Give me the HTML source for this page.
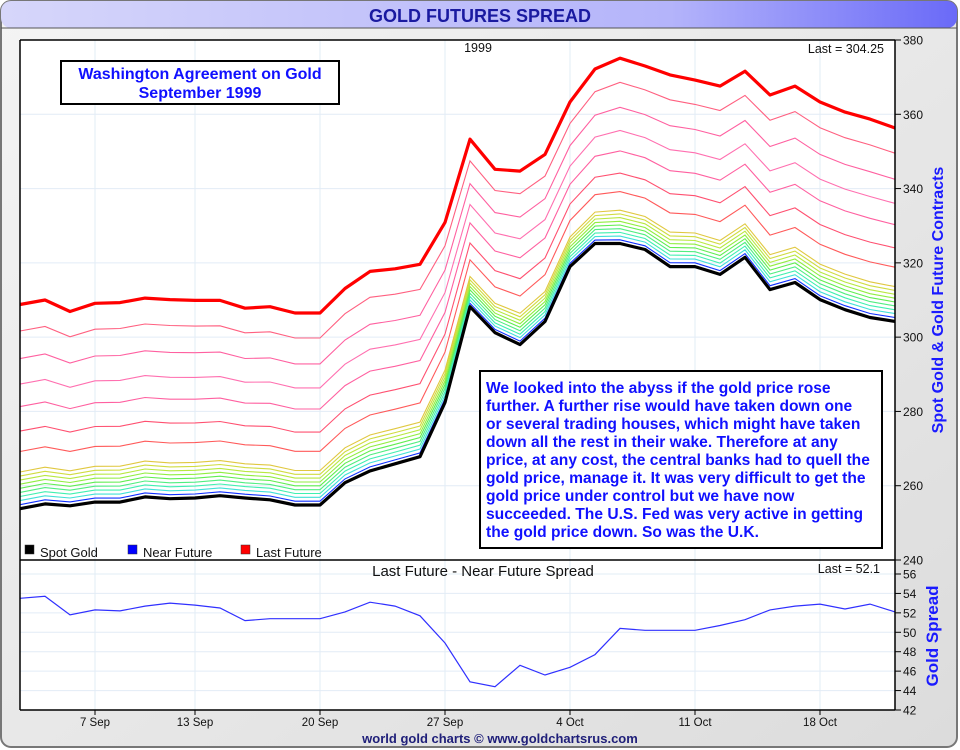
<!DOCTYPE html>
<html><head><meta charset="utf-8"><style>
html,body{margin:0;padding:0;width:960px;height:750px;overflow:hidden;background:#fff;font-family:"Liberation Sans",sans-serif}
</style></head><body>
<svg id="c" width="960" height="750" xmlns="http://www.w3.org/2000/svg">
<defs>
<linearGradient id="tg" x1="0" x2="1" y1="0" y2="0"><stop offset="0" stop-color="#d6d6fa"/><stop offset="0.7" stop-color="#b4b4fa"/><stop offset="1" stop-color="#6a6af8"/></linearGradient>
<linearGradient id="bg" x1="0" x2="1" y1="0" y2="1"><stop offset="0" stop-color="#f4f4f4"/><stop offset="1" stop-color="#dcdcdc"/></linearGradient>
</defs>
<rect x="1" y="1" width="956" height="746" rx="10" fill="url(#bg)" stroke="#777" stroke-width="2"/>
<rect x="1" y="1" width="956" height="27" rx="10" fill="url(#tg)"/>
<line x1="1" y1="28" x2="957" y2="28" stroke="#555" stroke-width="1"/>
<text x="480" y="22" text-anchor="middle" font-size="18" font-weight="bold" fill="#1a1aa0">GOLD FUTURES SPREAD</text>
<rect x="20" y="40" width="875" height="670" fill="#fff"/>
<g id="grid"></g>
<g id="series"></g>
<g id="axes"></g>
</svg>
<script>
const dates=["1 Sep","2 Sep","3 Sep","7 Sep","8 Sep","9 Sep","10 Sep","13 Sep","14 Sep","15 Sep","16 Sep","17 Sep","20 Sep","21 Sep","22 Sep","23 Sep","24 Sep","27 Sep","28 Sep","29 Sep","30 Sep","1 Oct","4 Oct","5 Oct","6 Oct","7 Oct","8 Oct","11 Oct","12 Oct","13 Oct","14 Oct","15 Oct","18 Oct","19 Oct","20 Oct","21 Oct","22 Oct"];
const spot=[253.8,255.1,254.6,255.6,255.6,257.0,256.5,256.7,257.3,256.7,256.2,254.8,254.8,260.8,264.0,265.9,267.8,282.4,308.2,301.2,298.0,304.2,319.0,325.2,325.2,323.6,319.0,319.0,316.9,321.5,312.8,314.7,310.1,307.4,305.3,304.25];
const lastFut=[308.8,310.0,306.9,309.1,309.3,310.5,310.1,309.9,309.9,307.8,308.2,306.5,306.5,313.1,317.7,318.4,319.6,330.9,353.3,345.2,344.7,349.2,363.3,372.2,375.1,373.0,370.6,369.2,367.6,371.6,365.2,367.6,363.3,360.6,358.7,356.3];
const spread=[53.5,53.7,51.8,52.3,52.2,52.7,53.0,52.8,52.5,51.2,51.4,51.4,51.4,52.1,53.1,52.7,51.7,48.9,44.9,44.4,46.6,45.6,46.4,47.7,50.4,50.2,50.2,50.2,50.7,51.3,52.3,52.7,52.9,52.4,52.9,52.1];
const contractFrac=[0.02,0.04,0.06,0.08,0.10,0.12,0.14,0.16,0.18,0.28,0.38,0.50,0.61,0.735,0.87];
const contractColors=["#1030ff","#40e0d8","#40f0b0","#50ee80","#60ee50","#90ee40","#b8e840","#d0dc40","#e0c840","#ff5a5a","#ff5070","#ff60a0","#ff70b0","#ff60a0","#ff6080"];
const mainTicks=[240,260,280,300,320,340,360,380];
const spreadTicks=[42,44,46,48,50,52,54,56];
const xLabels=["7 Sep","13 Sep","20 Sep","27 Sep","4 Oct","11 Oct","18 Oct"];
const NS="http://www.w3.org/2000/svg";
const x=i=>20+i*25;
const yM=v=>40+(380-v)*520/140;
const yS=v=>574+(56-v)*136/14;
function mk(tag,attrs,parent){const e=document.createElementNS(NS,tag);for(const k in attrs)e.setAttribute(k,attrs[k]);parent.appendChild(e);return e;}
const grid=document.getElementById('grid'),ser=document.getElementById('series'),ax=document.getElementById('axes');
const n=Math.min(spot.length,lastFut.length);
mainTicks.forEach(t=>{const l=mk('line',{x1:20,x2:895,y1:yM(t),y2:yM(t),stroke:'#e2ecf6'},grid);

});
spreadTicks.forEach(t=>{const l=mk('line',{x1:20,x2:895,y1:yS(t),y2:yS(t),stroke:'#e2ecf6'},grid);

});
xLabels.forEach(lb=>{const i=dates.indexOf(lb);const l=mk('line',{x1:x(i),x2:x(i),y1:40,y2:710,stroke:'#e2ecf6'},grid);

});
function pts(fn,len){let s=[];for(let i=0;i<len;i++)s.push(x(i).toFixed(1)+','+fn(i).toFixed(1));return s.join(' ');}
contractFrac.forEach((f,k)=>{const p=mk('polyline',{points:pts(i=>yM(spot[i]+f*(lastFut[i]-spot[i])),n),fill:'none',stroke:contractColors[k],'stroke-width':1.1},ser);

});
const lf=mk('polyline',{points:pts(i=>yM(lastFut[i]),n),fill:'none',stroke:'#ff0000','stroke-width':3.2,'stroke-linejoin':'round'},ser);


const sp=mk('polyline',{points:pts(i=>yM(spot[i]),n),fill:'none',stroke:'#000','stroke-width':3.2,'stroke-linejoin':'round'},ser);


const sl=mk('polyline',{points:pts(i=>yS(spread[i]),spread.length),fill:'none',stroke:'#3030ff','stroke-width':1.2},ser);


function ln(a,nm){const l=mk('line',Object.assign({stroke:'#000','stroke-width':1.5},a),ax);

}
ln({x1:20,x2:895,y1:40,y2:40},'plot-top-border');
ln({x1:20,x2:20,y1:40,y2:710},'plot-left-border');
ln({x1:895,x2:895,y1:40,y2:710},'right-axis-line');
ln({x1:20,x2:895,y1:560,y2:560},'panel-divider');
ln({x1:20,x2:895,y1:710,y2:710},'x-axis-line');
function tx(a,s,nm){const t=mk('text',a,ax);t.textContent=s;

return t;}
mainTicks.forEach(t=>{ln({x1:895,x2:901,y1:yM(t),y2:yM(t),'stroke-width':1},'main-y-tick');
tx({x:903,y:yM(t)+4.5,'font-size':12,fill:'#111'},String(t),'main-y-tick-label');});
spreadTicks.forEach(t=>{ln({x1:895,x2:901,y1:yS(t),y2:yS(t),'stroke-width':1},'spread-y-tick');
tx({x:903,y:yS(t)+4.5,'font-size':12,fill:'#111'},String(t),'spread-y-tick-label');});
xLabels.forEach(lb=>{const i=dates.indexOf(lb);ln({x1:x(i),x2:x(i),y1:710,y2:715,'stroke-width':1},'x-tick');
tx({x:x(i),y:726,'font-size':11.5,'text-anchor':'middle',fill:'#111'},lb,'x-tick-label');});
tx({x:478,y:52,'font-size':12.5,'text-anchor':'middle',fill:'#111'},'1999','year-label');
tx({x:884,y:53,'font-size':12.5,'text-anchor':'end',fill:'#111'},'Last = 304.25','main-last-value');
tx({x:483,y:576,'font-size':15,'text-anchor':'middle',fill:'#111'},'Last Future - Near Future Spread','spread-panel-title');
tx({x:880,y:573,'font-size':12.5,'text-anchor':'end',fill:'#111'},'Last = 52.1','spread-last-value');
tx({x:0,y:0,'font-size':16,'font-weight':'bold',fill:'#1a1aff','text-anchor':'middle',transform:'translate(943,300) rotate(-90)'},'Spot Gold & Gold Future Contracts','main-y-axis-title');
tx({x:0,y:0,'font-size':17,'font-weight':'bold',fill:'#1a1aff','text-anchor':'middle',transform:'translate(938,636) rotate(-90)'},'Gold Spread','spread-y-axis-title');
tx({x:500,y:743,'font-size':13,'font-weight':'bold','text-anchor':'middle',fill:'#20207a'},'world gold charts © www.goldchartsrus.com','footer-credit');
[["#000","Spot Gold",25],["#0000ff","Near Future",128],["#ff0000","Last Future",241]].forEach(([c,s,lx])=>{
const r=mk('rect',{x:lx,y:545,width:9,height:9,fill:c,stroke:'#333','stroke-width':0.5},ax);


tx({x:lx+15,y:557,'font-size':13,fill:'#111'},s,'legend-entry');});
const b1=mk('rect',{x:61,y:61,width:278,height:43,fill:'#fff',stroke:'#000','stroke-width':2},ax);


tx({x:200,y:79,'font-size':16,'font-weight':'bold',fill:'#1010ff','text-anchor':'middle'},'Washington Agreement on Gold','event-annotation-line');
tx({x:200,y:98,'font-size':16,'font-weight':'bold',fill:'#1010ff','text-anchor':'middle'},'September 1999','event-annotation-line');
const b2=mk('rect',{x:480,y:371,width:402,height:177,fill:'#fff',stroke:'#000','stroke-width':2},ax);


["We looked into the abyss if the gold price rose","further. A further rise would have taken down one","or several trading houses, which might have taken","down all the rest in their wake. Therefore at any","price, at any cost, the central banks had to quell the","gold price, manage it. It was very difficult to get the","gold price under control but we have now","succeeded. The U.S. Fed was very active in getting","the gold price down. So was the U.K."].forEach((s,k)=>{
tx({x:486,y:393+k*18,'font-size':15.6,'font-weight':'bold',fill:'#1010ff'},s,'quote-annotation-line');});
</script>
</body></html>
